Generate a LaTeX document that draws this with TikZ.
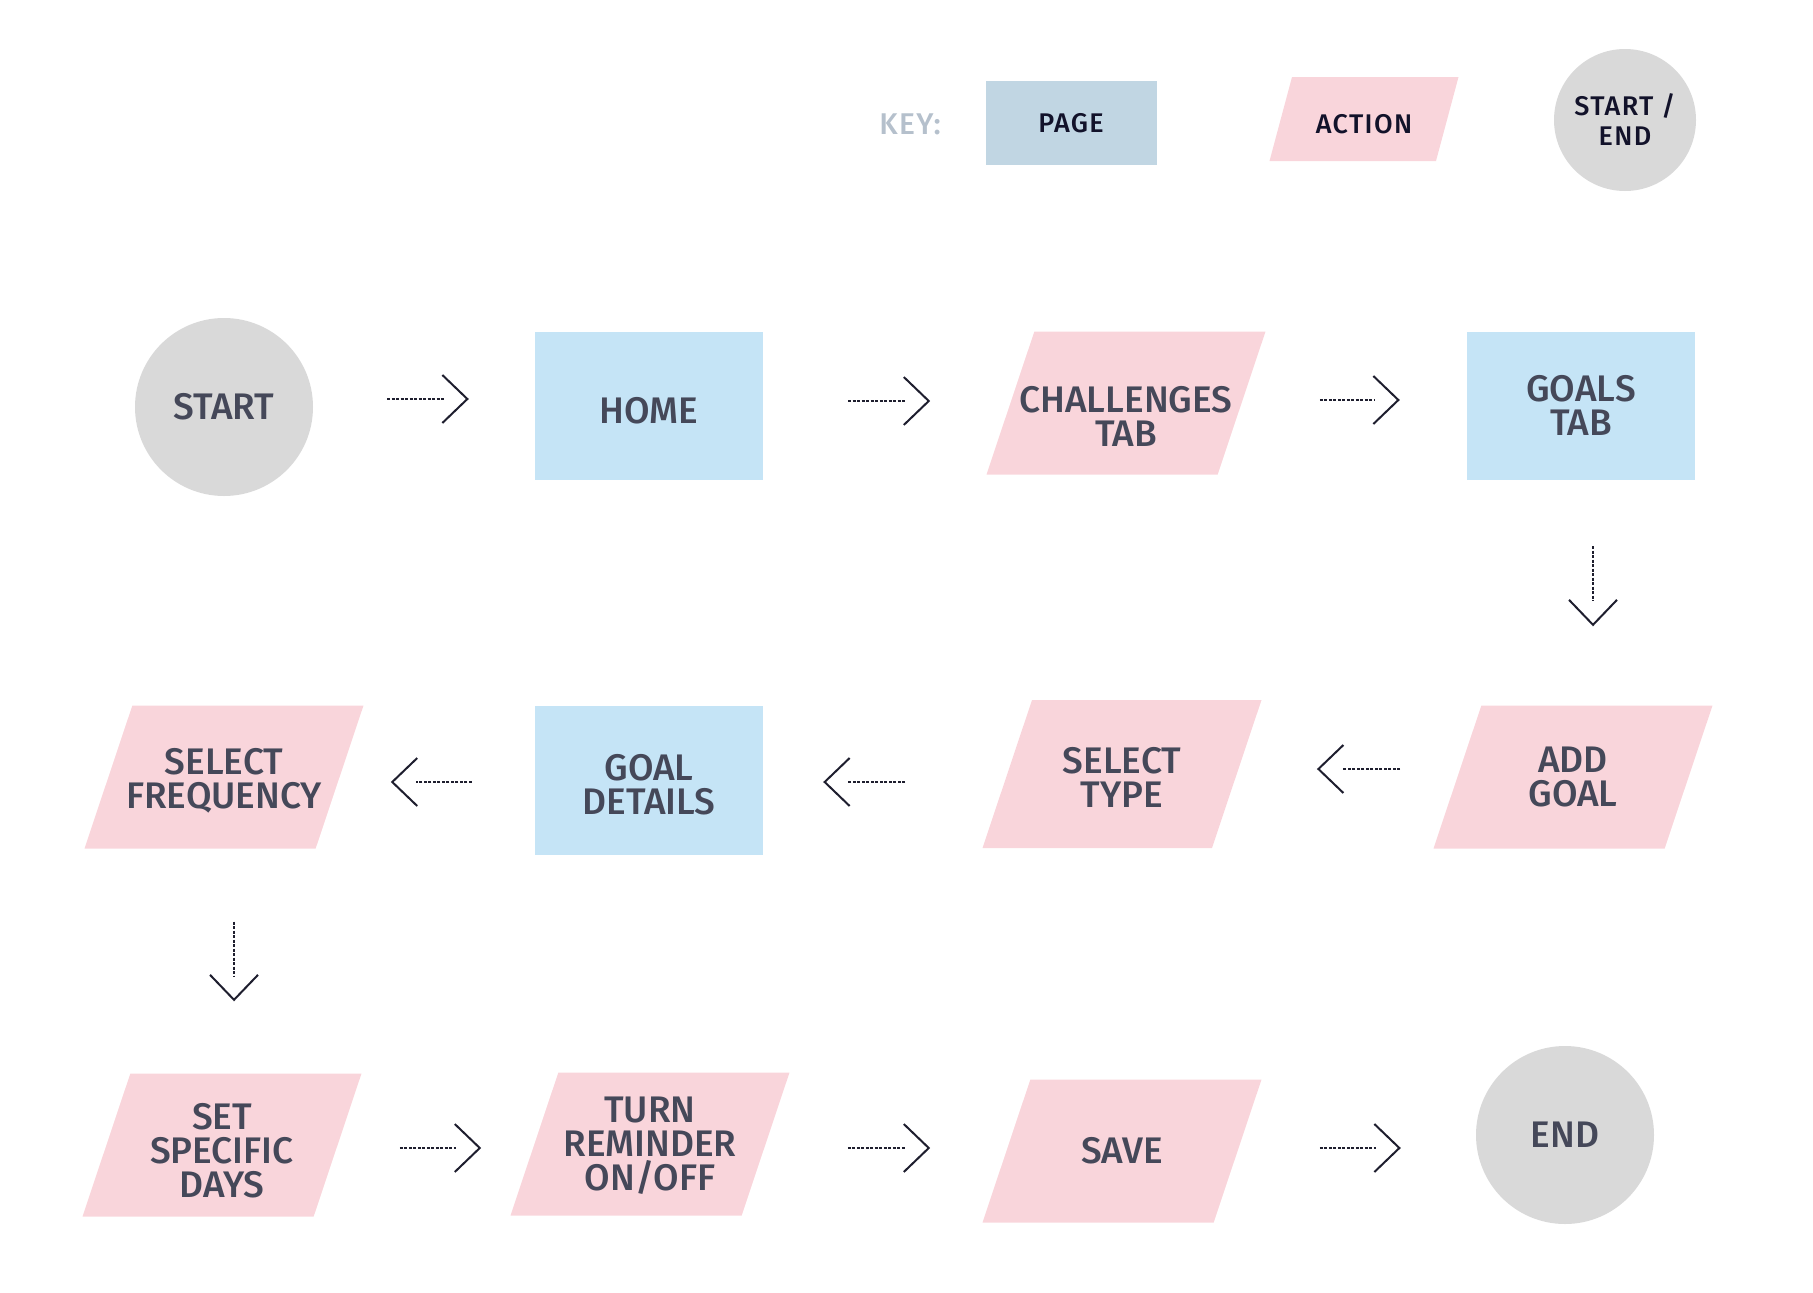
\documentclass[tikz,border=0pt]{standalone}
\usepackage{fontspec}
\setmainfont{Fira Sans}[BoldFont={Fira Sans Medium}]
\usetikzlibrary{shapes.geometric, arrows.meta, positioning, calc}
\definecolor{pageblue}{HTML}{C5E4F6}
\definecolor{keyblue}{HTML}{C1D6E3}
\definecolor{actionpink}{HTML}{F9D5DB}
\definecolor{endgray}{HTML}{D9D9D9}
\definecolor{labelink}{HTML}{454859}
\definecolor{keyink}{HTML}{12122A}
\definecolor{keygray}{HTML}{B5C0CC}
\definecolor{flowink}{HTML}{1E1E2E}

\begin{document}
\begin{tikzpicture}[x=1pt, y=-1pt,
    box/.style={font=\fontsize{37}{34}\selectfont\bfseries, text=labelink, align=center, inner sep=0pt},
    page/.style={box, rectangle, fill=pageblue, minimum width=228, minimum height=148},
    action/.style={box, trapezium, trapezium left angle=71.5, trapezium right angle=108.5,
        trapezium stretches body=true, inner xsep=-40pt, fill=actionpink, minimum width=279, minimum height=143},
    one/.style={text height=84.25, text depth=58.75},
    two/.style={text height=101.25, text depth=41.75},
    three/.style={text height=118.25, text depth=24.75},
    terminal/.style={box, circle, fill=endgray, minimum size=178},
    keytext/.style={font=\fontsize{27}{30}\selectfont\bfseries\addfontfeatures{LetterSpace=5}, text=keyink,
        align=center, inner sep=0pt},
    flowline/.style={draw=flowink, line width=1.2pt, dash pattern=on 3pt off 1.5pt},
    flowtip/.style={draw=flowink, -{Straight Barb[length=25pt, width=48pt, line width=2pt]}}
]
    \useasboundingbox (0,0) rectangle (1813,1293);

    % Key
    \node[font=\fontsize{30}{32}\selectfont\bfseries\addfontfeatures{LetterSpace=5}, text=keygray] (key) at (910,124) {KEY:};
    \node[keytext, rectangle, fill=keyblue, minimum width=171, minimum height=84] (keypage) at (1071,123) {PAGE};
    \node[keytext, trapezium, trapezium left angle=75, trapezium right angle=105, trapezium stretches body=true,
        fill=actionpink, minimum width=189, minimum height=84, text height=56, text depth=28] (keyaction) at (1364,119) {ACTION};
    \node[keytext, circle, fill=endgray, minimum size=142] (keyend) at (1625,120) {START /\\END};

    % Row 1
    \node[terminal] (start) at (224,407) {START};
    \node[page, text height=91, text depth=57] (home) at (649,406) {HOME};
    \node[action, text height=115.25, text depth=27.75] (challenges) at (1126,403) {CHALLENGES\\TAB};
    \node[page, text height=103.75, text depth=44.25] (goalstab) at (1581,406) {GOALS\\TAB};

    % Row 2
    \node[action, two] (addgoal) at (1573,777) {ADD\\GOAL};
    \node[action, minimum height=148, text height=107.75, text depth=40.25] (selecttype) at (1122,774) {SELECT\\TYPE};
    \node[page, minimum height=149, text height=109, text depth=40] (goaldetails) at (649,780) {GOAL\\DETAILS};
    \node[action, text height=103.25, text depth=39.75] (selectfreq) at (224,777) {SELECT\\FREQUENCY};

    % Row 3
    \node[action, text height=124.25, text depth=18.75] (setdays) at (222,1145) {SET\\SPECIFIC\\DAYS};
    \node[action, three] (reminder) at (650,1144) {TURN\\REMINDER\\ON/OFF};
    \node[action, one] (save) at (1122,1151) {SAVE};
    \node[terminal] (end) at (1565,1135) {END};

    % Flow arrows (from / side / to / side / gap at start / gap at end / lift)
    \foreach \a/\p/\b/\q/\s/\e/\dy in {start/east/home/west/74/66/8, home/east/challenges/west/85/80/5,
        challenges/east/goalstab/west/78/67/3, addgoal/west/selecttype/east/57/80/8,
        selecttype/west/goaldetails/east/102/60/-8, goaldetails/west/selectfreq/east/63/51/-2,
        setdays/east/reminder/west/62/53/-3, reminder/east/save/west/82/76/-4, save/east/end/west/82/75/3} {
        \coordinate (flowstart) at ([yshift=\dy]\a.\p);
        \coordinate (flowend) at (flowstart -| \b.\q);
        \draw[flowline, shorten <=\s, shorten >=\e+25] (flowstart) -- (flowend);
        \draw[flowtip] ($(flowend)!\e pt+1pt!(flowstart)$) -- ($(flowend)!\e pt!(flowstart)$);
    }

    % Downward arrows
    \coordinate (goalsout) at ([xshift=12]goalstab.south);
    \coordinate (goalsend) at (goalsout |- addgoal.north);
    \draw[flowline, shorten <=66, shorten >=104] (goalsout) -- (goalsend);
    \draw[flowtip] ($(goalsend)!80pt!(goalsout)$) -- ($(goalsend)!79pt!(goalsout)$);

    \coordinate (freqout) at ([xshift=10]selectfreq.south);
    \coordinate (freqend) at (freqout |- setdays.north);
    \draw[flowline, shorten <=73, shorten >=97] (freqout) -- (freqend);
    \draw[flowtip] ($(freqend)!73pt!(freqout)$) -- ($(freqend)!72pt!(freqout)$);

\end{tikzpicture}
\end{document}
